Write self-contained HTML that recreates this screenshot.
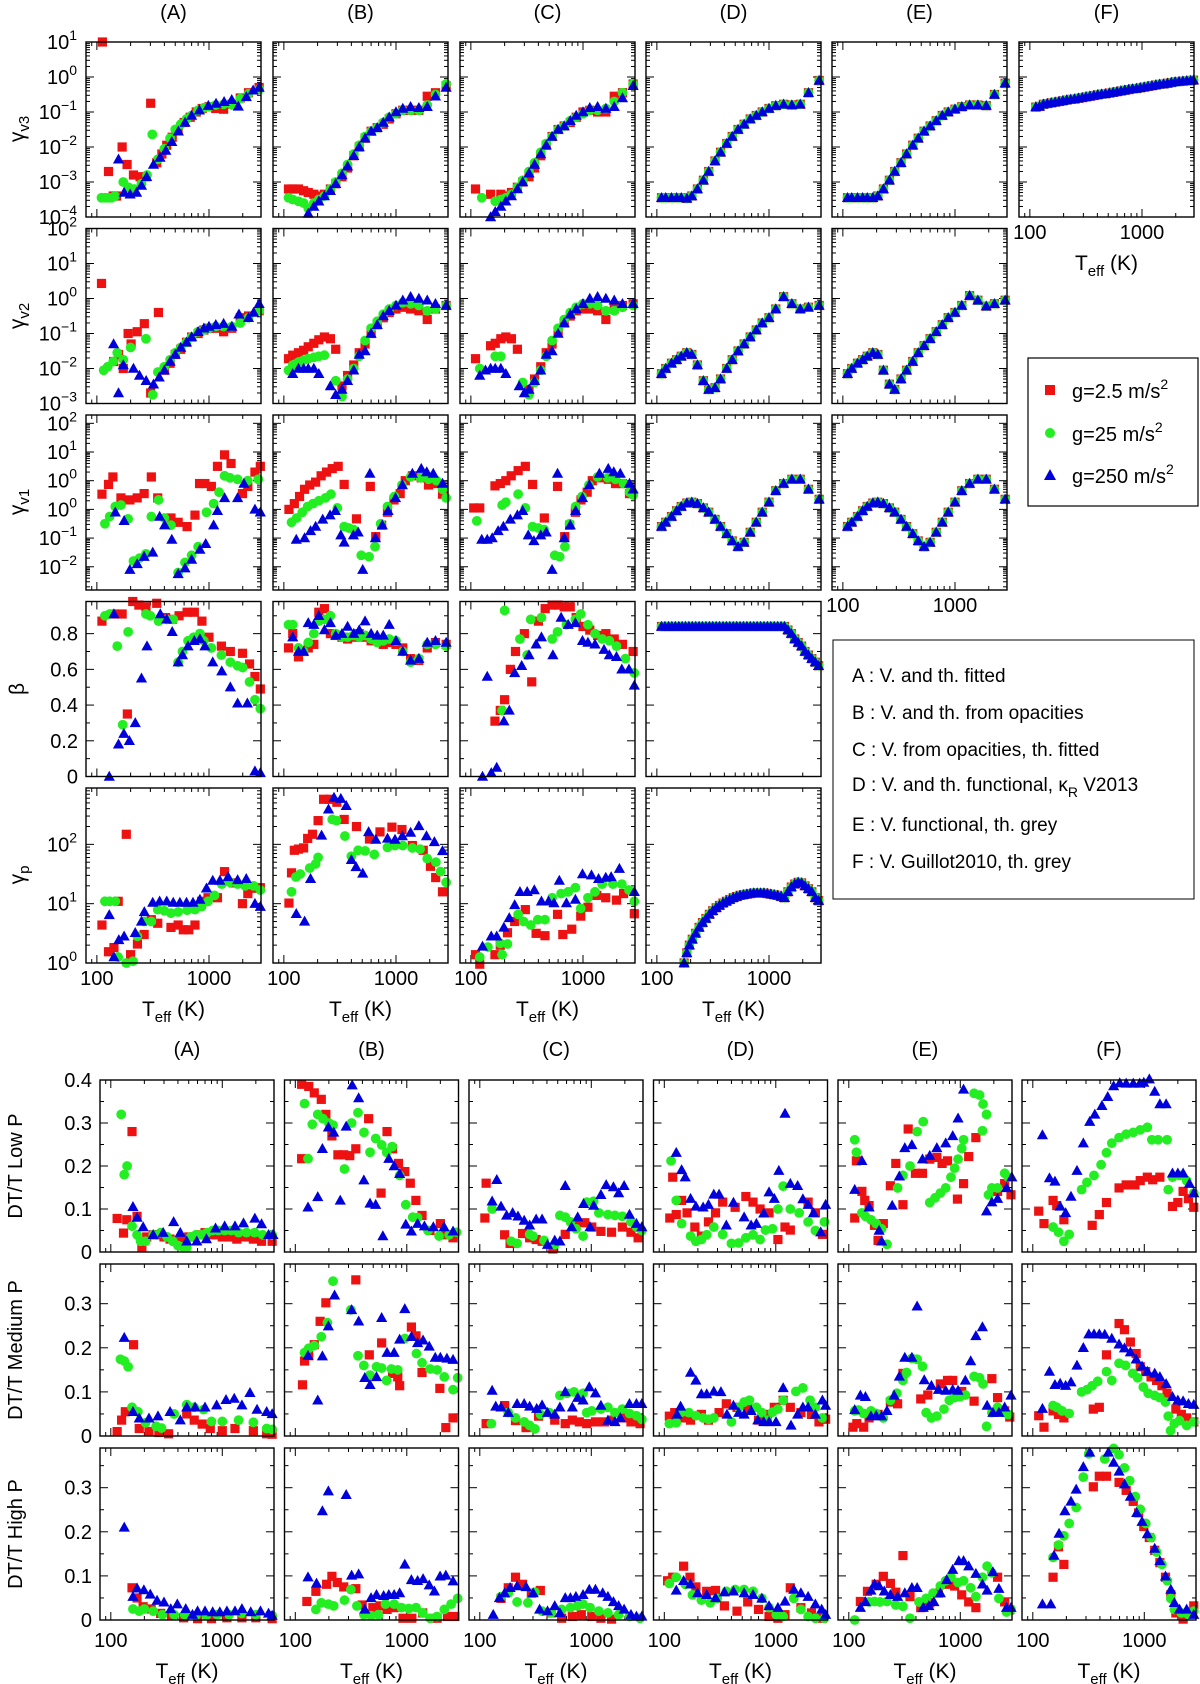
<!DOCTYPE html>
<html><head><meta charset="utf-8"><title>Gamma parameters and DT/T</title>
<style>
html,body{margin:0;padding:0;background:#fff;}
#fig{display:block;}
text{font-family:"Liberation Sans",Arial,sans-serif;fill:#000;}
</style></head>
<body>
<svg id="fig" xmlns="http://www.w3.org/2000/svg" width="1200" height="1684" viewBox="0 0 1200 1684">
<rect x="0" y="0" width="1200" height="1684" fill="#fff"/>
<g id="panels"></g>
<g>
<rect x="1028" y="358" width="170" height="148" fill="#fff" stroke="#000" stroke-width="1.2"/>
<rect x="1045" y="385" width="10" height="10" fill="#ee1111"/>
<text x="1072" y="398" font-size="20">g=2.5 m/s<tspan dy="-9" font-size="14">2</tspan></text>
<circle cx="1050" cy="433" r="5" fill="#22ee22"/>
<text x="1072" y="441" font-size="20">g=25 m/s<tspan dy="-9" font-size="14">2</tspan></text>
<polygon points="1050,469 1044,480 1056,480" fill="#0000dd"/>
<text x="1072" y="483" font-size="20">g=250 m/s<tspan dy="-9" font-size="14">2</tspan></text>
</g>
<g font-size="19">
<rect x="833" y="640" width="361" height="259" fill="#fff" stroke="#000" stroke-width="1"/>
<text x="852" y="682">A : V. and th. fitted</text>
<text x="852" y="719">B : V. and th. from opacities</text>
<text x="852" y="756">C : V. from opacities, th. fitted</text>
<text x="852" y="791">D : V. and th. functional, κ<tspan dy="6" font-size="14">R</tspan><tspan dy="-6"> V2013</tspan></text>
<text x="852" y="831">E : V. functional, th. grey</text>
<text x="852" y="868">F : V. Guillot2010, th. grey</text>
</g>
<g font-size="21">
<text transform="translate(24,129) rotate(-90)" text-anchor="middle">γ<tspan dy="5" font-size="15">v3</tspan></text>
<text transform="translate(24,316) rotate(-90)" text-anchor="middle">γ<tspan dy="5" font-size="15">v2</tspan></text>
<text transform="translate(24,502) rotate(-90)" text-anchor="middle">γ<tspan dy="5" font-size="15">v1</tspan></text>
<text transform="translate(24,689) rotate(-90)" text-anchor="middle">β</text>
<text transform="translate(24,875) rotate(-90)" text-anchor="middle">γ<tspan dy="5" font-size="15">p</tspan></text>
</g>
<g font-size="20">
<text transform="translate(22,1166) rotate(-90)" text-anchor="middle">DT/T Low P</text>
<text transform="translate(22,1350) rotate(-90)" text-anchor="middle">DT/T Medium P</text>
<text transform="translate(22,1534) rotate(-90)" text-anchor="middle">DT/T High P</text>
</g>
</svg>
<script>
// ---------- TOP SECTION DATA (log10 values for log rows) ----------
const A_v3_r=[[112,1.0],[127,-2.7],[140,-3.4],[150,-3.4],[168,-2.0],[186,-2.5],[212,-2.8],[243,-2.85],[275,-2.85],[302,-0.75],[342,-2.45],[380,-2.2],[420,-1.95],[470,-1.72],[530,-1.5],[600,-1.3],[680,-1.15],[770,-1.0],[870,-0.9],[1000,-0.85],[1150,-0.9],[1350,-0.92],[1600,-0.78],[1900,-0.6],[2250,-0.45],[2800,-0.3]];
const A_v3_g=[[110,-3.45],[118,-3.45],[127,-3.45],[135,-3.45],[145,-3.4],[172,-3.0],[191,-3.15],[215,-3.2],[250,-3.05],[280,-2.8],[312,-1.64],[350,-2.35],[400,-2.05],[450,-1.75],[500,-1.5],[560,-1.35],[630,-1.2],[700,-1.1],[800,-0.95],[900,-0.88],[1000,-0.85],[1150,-0.8],[1350,-0.78],[1600,-0.8],[1900,-0.62],[2250,-0.48],[2800,-0.35]];
const A_v3_b=[[156,-2.35],[175,-3.3],[198,-3.35],[226,-3.3],[250,-3.1],[278,-2.85],[320,-2.5],[366,-2.3],[412,-2.1],[466,-1.85],[533,-1.55],[612,-1.3],[700,-1.1],[822,-0.95],[986,-0.82],[1156,-0.76],[1364,-0.71],[1595,-0.65],[1826,-0.84],[2153,-0.57],[2475,-0.38],[2800,-0.3]];
const B_v3_r=[[110,-3.2],[120,-3.2],[135,-3.2],[150,-3.25],[165,-3.3],[185,-3.35],[205,-3.4],[230,-3.35],[260,-3.2],[290,-3.05],[330,-2.85],[370,-2.6],[420,-2.25],[470,-2.0],[530,-1.75],[600,-1.55],[680,-1.45],[770,-1.35],[870,-1.2],[1000,-1.05],[1150,-0.95],[1350,-0.95],[1600,-0.95],[1900,-0.55],[2250,-0.45],[2800,-0.25]];
const B_v3_g=[[110,-3.45],[120,-3.5],[135,-3.55],[150,-3.6],[165,-3.75],[185,-3.6],[205,-3.5],[230,-3.4],[260,-3.2],[290,-3.0],[330,-2.75],[370,-2.5],[420,-2.2],[470,-1.95],[530,-1.7],[600,-1.55],[680,-1.45],[770,-1.3],[870,-1.15],[1000,-1.05],[1150,-0.95],[1350,-0.95],[1600,-0.95],[1900,-0.8],[2250,-0.5],[2800,-0.2]];
const B_v3_b=[[165,-3.9],[185,-3.7],[205,-3.55],[230,-3.4],[260,-3.25],[290,-3.05],[330,-2.8],[370,-2.55],[420,-2.25],[470,-2.0],[530,-1.75],[600,-1.55],[680,-1.45],[770,-1.3],[870,-1.15],[1000,-1.0],[1150,-0.9],[1350,-0.85],[1600,-0.88],[1900,-0.85],[2250,-0.55],[2800,-0.3]];
const C_v3_r=[[110,-3.2],[150,-3.35],[185,-3.35],[205,-3.4],[230,-3.3],[260,-3.15],[290,-3.0],[330,-2.85],[370,-2.6],[420,-2.25],[470,-1.95],[530,-1.7],[600,-1.5],[680,-1.4],[770,-1.3],[870,-1.15],[1000,-1.0],[1150,-0.95],[1350,-1.0],[1600,-1.0],[1900,-0.55],[2250,-0.45],[2800,-0.2]];
const C_v3_g=[[125,-3.45],[165,-3.55],[185,-3.5],[205,-3.45],[230,-3.35],[260,-3.15],[290,-2.95],[330,-2.7],[370,-2.45],[420,-2.15],[470,-1.9],[530,-1.7],[600,-1.5],[680,-1.4],[770,-1.25],[870,-1.15],[1000,-1.05],[1150,-0.95],[1350,-0.95],[1600,-0.9],[1900,-0.7],[2250,-0.45],[2800,-0.2]];
const C_v3_b=[[150,-4.0],[165,-3.85],[185,-3.7],[205,-3.55],[230,-3.4],[260,-3.2],[290,-3.0],[330,-2.75],[370,-2.5],[420,-2.2],[470,-1.95],[530,-1.7],[600,-1.5],[680,-1.4],[770,-1.25],[870,-1.1],[1000,-1.0],[1150,-0.88],[1350,-0.85],[1600,-0.9],[1900,-0.85],[2250,-0.6],[2800,-0.25]];
const D_v3=[[110,-3.45],[120,-3.45],[135,-3.45],[150,-3.45],[165,-3.45],[185,-3.47],[205,-3.4],[230,-3.2],[260,-2.95],[290,-2.7],[330,-2.4],[370,-2.15],[420,-1.9],[470,-1.7],[530,-1.5],[600,-1.35],[680,-1.2],[770,-1.1],[870,-1.0],[1000,-0.9],[1150,-0.82],[1350,-0.78],[1600,-0.8],[1900,-0.78],[2250,-0.45],[2800,-0.1]];
const E_v3=[[110,-3.45],[120,-3.45],[135,-3.45],[150,-3.45],[165,-3.45],[185,-3.45],[205,-3.4],[230,-3.2],[260,-2.95],[290,-2.7],[330,-2.45],[370,-2.2],[420,-1.95],[470,-1.75],[530,-1.55],[600,-1.4],[680,-1.25],[770,-1.1],[870,-1.0],[1000,-0.92],[1150,-0.85],[1350,-0.8],[1600,-0.8],[1900,-0.82],[2250,-0.5],[2800,-0.18]];
const F_v3=[[113,-0.86],[122,-0.84],[132,-0.78],[143,-0.76],[155,-0.74],[168,-0.72],[182,-0.7],[197,-0.68],[213,-0.66],[231,-0.64],[250,-0.63],[271,-0.61],[293,-0.59],[317,-0.57],[343,-0.55],[372,-0.53],[403,-0.51],[436,-0.49],[472,-0.48],[511,-0.46],[553,-0.44],[599,-0.42],[649,-0.4],[702,-0.38],[760,-0.36],[823,-0.34],[892,-0.33],[965,-0.31],[1045,-0.29],[1132,-0.27],[1226,-0.25],[1327,-0.23],[1437,-0.21],[1556,-0.2],[1685,-0.18],[1825,-0.16],[1976,-0.14],[2140,-0.13],[2317,-0.12],[2509,-0.11],[2717,-0.1],[2880,-0.09]];

const A_v2_r=[[110,0.43],[141,-1.8],[156,-1.6],[172,-2.0],[190,-1.0],[202,-1.3],[229,-0.95],[265,-0.72],[302,-2.7],[354,-0.4],[400,-2.05],[450,-1.85],[500,-1.6],[560,-1.45],[630,-1.25],[700,-1.1],[800,-1.0],[900,-0.9],[1000,-0.85],[1150,-0.85],[1350,-0.95],[1600,-0.85],[1900,-0.55],[2250,-0.5],[2800,-0.35]];
const A_v2_g=[[115,-2.05],[125,-1.95],[140,-1.8],[152,-1.55],[172,-1.75],[200,-1.4],[274,-1.15],[315,-2.75],[350,-2.1],[400,-1.95],[450,-1.75],[500,-1.55],[560,-1.4],[630,-1.25],[700,-1.1],[800,-0.95],[900,-0.9],[1000,-0.85],[1150,-0.8],[1350,-0.8],[1600,-0.8],[1900,-0.7],[2250,-0.55],[2800,-0.35]];
const A_v2_b=[[141,-1.3],[156,-2.7],[172,-1.9],[212,-2.0],[240,-2.2],[275,-2.35],[320,-2.45],[360,-2.25],[400,-2.05],[450,-1.8],[500,-1.6],[560,-1.4],[630,-1.25],[700,-1.1],[800,-0.95],[900,-0.85],[1000,-0.8],[1150,-0.75],[1350,-0.72],[1600,-0.8],[1850,-0.45],[2250,-0.55],[2500,-0.4],[2800,-0.15]];
const B_v2_r=[[110,-1.72],[120,-1.62],[135,-1.55],[150,-1.48],[165,-1.38],[185,-1.28],[205,-1.18],[230,-1.1],[260,-1.15],[290,-1.45],[330,-2.5],[370,-2.2],[420,-1.9],[470,-1.55],[530,-1.3],[600,-1.0],[680,-0.75],[770,-0.55],[870,-0.4],[1000,-0.3],[1150,-0.25],[1350,-0.3],[1600,-0.35],[1900,-0.6],[2250,-0.3],[2800,-0.2]];
const B_v2_g=[[110,-2.05],[120,-1.9],[135,-1.82],[150,-1.76],[165,-1.72],[185,-1.68],[205,-1.65],[230,-1.62],[290,-2.35],[330,-2.8],[370,-2.3],[420,-2.0],[470,-1.65],[530,-1.2],[600,-0.85],[680,-0.65],[770,-0.45],[870,-0.3],[1000,-0.2],[1150,-0.12],[1350,-0.15],[1600,-0.2],[1900,-0.35],[2250,-0.3],[2800,-0.2]];
const B_v2_b=[[120,-2.15],[135,-2.0],[150,-2.0],[165,-2.0],[185,-2.0],[205,-2.15],[260,-2.5],[290,-2.75],[330,-2.6],[370,-2.35],[420,-2.05],[470,-1.6],[530,-1.5],[600,-1.0],[680,-0.75],[770,-0.5],[870,-0.35],[1000,-0.2],[1150,-0.05],[1350,0.05],[1600,0.0],[1900,-0.05],[2250,-0.15],[2800,-0.2]];
const C_v2_r=[[110,-1.72],[150,-1.35],[165,-1.28],[185,-1.15],[205,-1.1],[230,-1.15],[260,-1.45],[330,-2.6],[370,-2.3],[420,-1.95],[470,-1.55],[530,-1.3],[600,-0.95],[680,-0.7],[770,-0.5],[870,-0.35],[1000,-0.3],[1150,-0.3],[1350,-0.35],[1600,-0.6],[1900,-0.3],[2250,-0.2],[2800,-0.15]];
const C_v2_g=[[120,-2.0],[165,-1.65],[185,-1.65],[290,-2.4],[330,-2.75],[370,-2.4],[420,-2.05],[470,-1.65],[530,-1.2],[600,-0.85],[680,-0.6],[770,-0.4],[870,-0.25],[1000,-0.15],[1150,-0.15],[1350,-0.2],[1600,-0.35],[1900,-0.35],[2250,-0.25],[2800,-0.2]];
const C_v2_b=[[120,-2.2],[135,-2.05],[150,-2.0],[165,-2.0],[185,-2.0],[205,-2.15],[270,-2.5],[300,-2.7],[330,-2.6],[370,-2.35],[420,-2.05],[470,-1.6],[530,-1.5],[600,-1.0],[680,-0.7],[770,-0.45],[870,-0.3],[1000,-0.15],[1150,0.0],[1350,0.05],[1600,0.0],[1900,-0.05],[2250,-0.15],[2800,-0.15]];
const D_v2=[[110,-2.15],[120,-2.0],[135,-1.85],[150,-1.75],[165,-1.65],[185,-1.55],[205,-1.6],[230,-1.9],[260,-2.35],[290,-2.6],[330,-2.55],[370,-2.3],[420,-2.0],[470,-1.75],[530,-1.5],[600,-1.3],[680,-1.1],[770,-0.9],[870,-0.7],[1000,-0.55],[1150,-0.3],[1350,0.05],[1600,-0.15],[1900,-0.3],[2250,-0.25],[2800,-0.2]];
const E_v2=[[110,-2.15],[120,-2.0],[135,-1.85],[150,-1.75],[165,-1.65],[185,-1.55],[205,-1.6],[230,-2.05],[260,-2.45],[290,-2.6],[330,-2.3],[370,-2.05],[420,-1.8],[470,-1.55],[530,-1.35],[600,-1.15],[680,-0.95],[770,-0.75],[870,-0.55],[1000,-0.4],[1150,-0.2],[1350,0.08],[1600,-0.05],[1900,-0.22],[2250,-0.15],[2800,-0.05]];

const A_v1_r=[[111,-0.47],[127,-0.13],[139,0.13],[164,-0.6],[197,-0.67],[229,-0.6],[264,-0.45],[306,0.13],[349,-0.6],[458,-1.3],[531,-1.45],[638,-1.6],[750,-1.2],[824,-0.1],[920,-0.1],[1050,-0.2],[1190,0.5],[1377,0.9],[1573,0.6],[1988,-0.45],[2220,-0.2],[2570,0.3],[2870,0.5]];
const A_v1_g=[[118,-1.5],[130,-1.25],[146,-0.9],[164,-0.85],[190,-1.33],[212,-2.8],[240,-2.7],[274,-2.55],[306,-1.25],[355,-0.67],[400,-1.3],[458,-1.55],[531,-3.2],[611,-2.85],[700,-2.6],[800,-2.3],[950,-1.1],[1100,-0.8],[1230,-0.4],[1377,0.17],[1540,0.1],[1800,0.05],[2220,0.0],[2750,0.05]];
const A_v1_b=[[146,-1.1],[175,-1.4],[197,-3.1],[229,-2.9],[264,-2.65],[315,-2.5],[363,-1.25],[402,-1.55],[466,-2.05],[531,-3.25],[611,-3.05],[700,-2.75],[830,-2.4],[935,-2.2],[1100,-1.55],[1190,-1.05],[1377,-0.6],[1800,-0.6],[2050,-0.1],[2570,-1.0],[2870,-1.1]];
const B_v1_r=[[111,-1.0],[124,-0.8],[138,-0.55],[153,-0.3],[170,-0.15],[192,-0.05],[215,0.17],[240,0.3],[270,0.42],[305,0.5],[345,-0.13],[444,-1.33],[590,-0.2],[660,-1.95],[745,-1.55],[840,-1.1],[960,-0.67],[1090,-0.45],[1210,0.0],[1400,0.17],[1680,0.1],[1950,-0.15],[2250,-0.1],[2600,-0.47]];
const B_v1_g=[[117,-1.45],[130,-1.3],[146,-1.1],[163,-0.9],[182,-0.8],[205,-0.7],[235,-0.6],[263,-0.47],[300,-0.95],[345,-1.6],[380,-1.65],[417,-1.7],[490,-2.6],[575,-2.65],[650,-2.3],[730,-1.5],[840,-0.9],[970,-0.55],[1130,-0.15],[1350,0.13],[1660,0.1],[1950,0.05],[2300,0.0],[2600,-0.3],[2800,-0.6]];
const B_v1_b=[[129,-2.05],[153,-2.0],[173,-1.75],[192,-1.6],[222,-1.35],[258,-1.2],[288,-1.05],[322,-1.9],[345,-2.15],[417,-1.9],[460,-1.8],[505,-3.1],[585,0.25],[655,-2.0],[755,-1.55],[850,-1.05],[990,-0.6],[1140,-0.15],[1400,0.25],[1680,0.42],[1880,0.3],[2150,0.25],[2600,-0.1]];
const C_v1_r=[[106,-0.95],[120,-0.95],[164,-0.18],[183,-0.1],[205,0.0],[229,0.17],[264,0.35],[306,0.5],[355,-0.13],[452,-1.3],[593,-0.2],[687,-1.95],[760,-1.55],[855,-1.1],[960,-0.67],[1090,-0.4],[1210,0.0],[1400,0.1],[1680,0.05],[1950,-0.1],[2250,-0.1],[2600,-0.45]];
const C_v1_g=[[113,-1.4],[190,-0.85],[205,-0.75],[264,-0.47],[306,-0.95],[355,-1.6],[400,-1.65],[450,-1.7],[560,-2.6],[620,-2.65],[690,-2.3],[760,-1.5],[860,-0.9],[980,-0.55],[1130,-0.15],[1350,0.13],[1660,0.1],[1950,0.05],[2300,-0.1],[2600,-0.4],[2800,-0.5]];
const C_v1_b=[[125,-2.05],[140,-2.05],[155,-2.0],[175,-1.75],[195,-1.6],[225,-1.35],[260,-1.2],[290,-1.05],[325,-1.9],[365,-2.1],[420,-1.9],[470,-1.8],[530,-3.1],[593,0.25],[680,-2.0],[770,-1.55],[860,-1.05],[990,-0.6],[1140,-0.15],[1400,0.25],[1680,0.42],[1880,0.3],[2150,0.25],[2600,-0.1],[2800,-0.3]];
const D_v1=[[110,-1.6],[120,-1.45],[135,-1.25],[150,-1.05],[165,-0.9],[185,-0.78],[205,-0.75],[230,-0.8],[260,-0.95],[290,-1.1],[330,-1.35],[370,-1.6],[420,-1.85],[470,-2.1],[530,-2.3],[600,-2.15],[680,-1.8],[770,-1.45],[870,-1.1],[1000,-0.75],[1150,-0.35],[1350,-0.1],[1600,0.05],[1900,0.05],[2250,-0.3],[2800,-0.65]];
const E_v1=[[110,-1.6],[120,-1.45],[135,-1.25],[150,-1.05],[165,-0.9],[185,-0.78],[205,-0.75],[230,-0.8],[260,-0.95],[290,-1.1],[330,-1.35],[370,-1.6],[420,-1.85],[470,-2.1],[530,-2.3],[600,-2.15],[680,-1.8],[770,-1.45],[870,-1.1],[1000,-0.75],[1150,-0.35],[1350,-0.1],[1600,0.05],[1900,0.05],[2250,-0.3],[2800,-0.65]];

const A_b_r=[[111,0.87],[142,0.91],[168,0.91],[187,0.35],[209,0.98],[237,0.96],[274,0.95],[342,0.97],[410,0.89],[470,0.88],[541,0.9],[638,0.92],[740,0.92],[865,0.87],[1000,0.78],[1290,0.73],[1550,0.7],[1990,0.69],[2300,0.63],[2570,0.56],[2870,0.49]];
const A_b_g=[[118,0.9],[130,0.91],[152,0.73],[170,0.29],[190,0.81],[274,0.91],[300,0.9],[355,0.87],[420,0.88],[480,0.88],[531,0.64],[580,0.7],[650,0.76],[730,0.78],[830,0.8],[900,0.76],[1050,0.72],[1290,0.68],[1550,0.64],[1800,0.62],[2000,0.61],[2300,0.53],[2570,0.43],[2870,0.38]];
const A_b_b=[[129,0.0],[142,0.91],[156,0.18],[174,0.24],[195,0.2],[220,0.3],[250,0.55],[280,0.73],[368,0.91],[420,0.88],[470,0.81],[531,0.64],[580,0.68],[650,0.73],[740,0.76],[830,0.77],[920,0.73],[1080,0.64],[1300,0.59],[1550,0.5],[1800,0.41],[2200,0.41],[2570,0.03],[2870,0.02]];
const B_b_r=[[110,0.72],[120,0.8],[135,0.67],[150,0.7],[165,0.72],[185,0.74],[205,0.92],[230,0.94],[260,0.8],[290,0.79],[330,0.78],[370,0.77],[420,0.78],[470,0.8],[530,0.78],[600,0.76],[680,0.76],[770,0.74],[870,0.75],[1000,0.74],[1150,0.72],[1350,0.66],[1600,0.65],[1900,0.72],[2250,0.75],[2800,0.74]];
const B_b_g=[[110,0.85],[120,0.85],[135,0.72],[150,0.7],[165,0.75],[185,0.8],[205,0.87],[230,0.88],[260,0.9],[290,0.8],[330,0.78],[370,0.78],[420,0.79],[470,0.78],[530,0.79],[600,0.77],[680,0.75],[770,0.76],[870,0.77],[1000,0.76],[1150,0.7],[1350,0.64],[1600,0.66],[1900,0.74],[2250,0.74],[2800,0.73]];
const B_b_b=[[120,0.78],[135,0.7],[150,0.7],[165,0.86],[185,0.85],[205,0.9],[230,0.82],[260,0.86],[290,0.79],[330,0.8],[370,0.84],[420,0.8],[470,0.82],[530,0.87],[600,0.8],[680,0.79],[770,0.79],[870,0.85],[1000,0.76],[1150,0.7],[1350,0.65],[1600,0.66],[1900,0.75],[2250,0.76],[2800,0.75]];
const C_b_r=[[164,0.31],[183,0.37],[200,0.43],[225,0.6],[250,0.7],[349,0.53],[300,0.8],[400,0.87],[460,0.94],[530,0.96],[600,0.96],[680,0.95],[770,0.95],[870,0.89],[1000,0.84],[1150,0.82],[1350,0.79],[1600,0.8],[1900,0.77],[2250,0.74],[2800,0.7]];
const C_b_g=[[190,0.37],[200,0.93],[274,0.77],[318,0.68],[342,0.88],[426,0.89],[531,0.77],[593,0.81],[712,0.85],[855,0.88],[955,0.91],[1107,0.85],[1280,0.8],[1483,0.77],[1718,0.76],[1990,0.73],[2390,0.66],[2870,0.58]];
const C_b_b=[[127,0.0],[152,0.02],[170,0.05],[140,0.56],[197,0.31],[220,0.37],[246,0.58],[284,0.62],[330,0.68],[382,0.74],[426,0.78],[539,0.68],[638,0.89],[738,0.85],[855,0.86],[990,0.76],[1107,0.75],[1280,0.74],[1540,0.71],[1718,0.68],[1990,0.67],[2220,0.6],[2570,0.6],[2870,0.51]];
const D_T=[110,118,127,136,146,157,168,180,193,207,222,238,255,274,294,315,338,362,389,417,447,480,515,552,592,635,681,731,784,841,902,968,1038,1114,1195,1282,1375,1475,1582,1697,1820,1953,2095,2247,2410,2586,2774];
const D_beta=[0.84,0.84,0.84,0.84,0.84,0.84,0.84,0.84,0.84,0.84,0.84,0.84,0.84,0.84,0.84,0.84,0.84,0.84,0.84,0.84,0.84,0.84,0.84,0.84,0.84,0.84,0.84,0.84,0.84,0.84,0.84,0.84,0.84,0.84,0.84,0.84,0.84,0.82,0.8,0.77,0.75,0.73,0.7,0.68,0.66,0.64,0.62];

const A_gp_r=[[111,0.64],[127,0.19],[142,0.26],[155,1.04],[183,2.17],[200,0.14],[230,0.32],[264,0.48],[306,0.73],[349,0.67],[458,0.6],[531,0.64],[590,0.56],[660,0.56],[750,0.64],[860,1.04],[980,1.1],[1190,1.1],[1377,1.54],[1650,1.35],[1988,1.0],[2220,1.17],[2570,1.26],[2870,1.27]];
const A_gp_g=[[118,1.04],[130,1.04],[146,1.04],[155,0.1],[183,0.0],[210,0.03],[230,0.45],[264,0.7],[306,0.7],[349,0.9],[400,0.88],[458,0.84],[531,0.86],[638,0.89],[750,0.9],[860,0.95],[980,1.04],[1120,1.14],[1300,1.33],[1540,1.36],[1800,1.33],[2100,1.3],[2500,1.3],[2870,1.23]];
const A_gp_b=[[129,0.81],[142,0.1],[157,0.39],[175,0.45],[220,0.51],[250,0.7],[265,0.86],[315,1.02],[363,1.04],[420,1.04],[480,1.02],[550,1.02],[630,1.02],[720,1.02],[830,1.07],[950,1.26],[1080,1.39],[1250,1.39],[1480,1.45],[1800,1.4],[2150,1.42],[2570,1.0],[2870,0.95]];
const B_gp_r=[[111,1.01],[117,1.52],[124,1.9],[135,1.92],[150,1.94],[163,2.1],[180,2.17],[202,2.4],[226,2.76],[255,2.76],[297,2.71],[345,2.42],[444,2.3],[580,2.09],[720,2.21],[920,2.29],[1130,2.25],[1400,1.98],[1750,1.9],[2030,1.63],[2260,1.44],[2600,1.2]];
const B_gp_g=[[117,1.2],[128,1.45],[140,1.5],[170,1.6],[192,1.67],[202,1.78],[270,2.42],[295,2.4],[350,2.14],[400,1.8],[460,1.9],[530,1.89],[640,1.83],[840,1.95],[980,1.98],[1150,1.98],[1400,1.94],[1640,1.92],[1900,1.76],[2270,1.7],[2500,1.54],[2800,1.36]];
const B_gp_b=[[129,0.83],[153,0.7],[173,1.42],[217,2.15],[250,2.59],[280,2.79],[322,2.77],[360,2.65],[400,1.74],[440,1.62],[505,1.51],[570,2.21],[660,2.08],[840,2.1],[980,2.08],[1140,2.14],[1350,2.2],[1600,2.31],[1870,2.14],[2200,2.04],[2600,1.89]];
const C_gp_r=[[110,0.14],[120,-0.02],[164,0.14],[183,0.3],[212,0.51],[246,0.7],[306,0.9],[382,0.5],[458,0.46],[593,0.82],[661,0.48],[794,0.57],[955,0.79],[1107,0.94],[1328,1.14],[1596,1.1],[1990,1.06],[2302,1.17],[2870,0.83]];
const C_gp_g=[[120,0.1],[142,0.27],[183,0.33],[190,0.14],[212,0.32],[264,0.82],[295,0.7],[342,0.64],[396,0.73],[458,0.73],[531,1.1],[638,1.17],[738,1.2],[855,1.27],[955,0.92],[1107,1.1],[1280,1.2],[1483,1.33],[1848,1.33],[2220,1.33],[2570,1.23],[2870,1.04]];
const C_gp_b=[[127,0.28],[152,0.45],[170,0.45],[197,0.6],[220,0.76],[246,0.98],[274,1.2],[318,1.2],[368,1.23],[426,1.04],[493,1.04],[551,1.01],[615,1.39],[712,1.01],[855,1.07],[990,1.5],[1190,1.48],[1377,1.42],[1596,1.44],[1783,1.45],[2113,1.59],[2870,1.2]];
const D_gp=[[175,0.0],[185,0.17],[195,0.3],[207,0.4],[222,0.5],[238,0.6],[255,0.68],[274,0.75],[294,0.82],[315,0.88],[338,0.93],[362,0.97],[389,1.01],[417,1.04],[447,1.07],[480,1.1],[515,1.12],[552,1.14],[592,1.15],[635,1.16],[681,1.17],[731,1.18],[784,1.18],[841,1.18],[902,1.18],[968,1.17],[1038,1.16],[1114,1.15],[1195,1.14],[1282,1.12],[1375,1.1],[1475,1.2],[1582,1.28],[1697,1.33],[1820,1.36],[1953,1.35],[2095,1.3],[2247,1.25],[2410,1.2],[2586,1.1],[2774,1.05]];

// ---------- BOTTOM SECTION DATA (DT/T) ----------
const AL_r=[[114,0.078],[130,0.044],[139,0.075],[155,0.28],[172,0.083],[190,0.012],[210,0.035],[240,0.04],[270,0.04],[300,0.035],[340,0.03],[390,0.025],[440,0.03],[500,0.035],[560,0.035],[630,0.04],[700,0.045],[800,0.04],[900,0.04],[1000,0.035],[1150,0.035],[1350,0.03],[1600,0.035],[1900,0.03],[2250,0.025],[2800,0.025]];
const AL_g=[[124,0.32],[132,0.18],[140,0.2],[155,0.06],[172,0.04],[185,0.025],[205,0.025],[240,0.04],[280,0.045],[320,0.035],[360,0.025],[400,0.015],[440,0.012],[480,0.01],[520,0.035],[580,0.04],[650,0.04],[730,0.045],[820,0.05],[920,0.05],[1050,0.05],[1200,0.05],[1400,0.045],[1650,0.045],[1950,0.045],[2300,0.04],[2800,0.04]];
const AL_b=[[158,0.105],[172,0.08],[195,0.058],[240,0.04],[295,0.045],[366,0.07],[420,0.045],[480,0.025],[590,0.025],[720,0.03],[870,0.055],[1050,0.06],[1300,0.06],[1550,0.067],[1960,0.078],[2250,0.065],[2600,0.04],[2850,0.04]];
const AM_r=[[114,0.01],[125,0.036],[135,0.055],[160,0.207],[180,0.017],[220,0.01],[270,0.008],[330,0.005],[480,0.05],[560,0.036],[660,0.027],[780,0.017],[1000,0.012],[1300,0.017],[1900,0.012],[2500,0.005],[2800,0.004]];
const AM_g=[[122,0.174],[132,0.17],[143,0.157],[155,0.065],[175,0.055],[205,0.03],[255,0.022],[285,0.018],[370,0.05],[480,0.071],[560,0.065],[680,0.06],[800,0.033],[1000,0.033],[1400,0.036],[1900,0.031],[2500,0.017],[2800,0.015]];
const AM_b=[[132,0.223],[158,0.055],[180,0.04],[220,0.04],[265,0.045],[340,0.055],[420,0.036],[480,0.065],[570,0.065],[700,0.065],[890,0.07],[1080,0.082],[1280,0.085],[1500,0.07],[1770,0.098],[2050,0.06],[2500,0.055],[2800,0.05]];
const AH_r=[[155,0.073],[172,0.05],[195,0.03],[230,0.025],[280,0.015],[350,0.01],[450,0.005],[600,0.003],[800,0.003],[1100,0.005],[1500,0.005],[2000,0.005],[2800,0.003]];
const AH_g=[[158,0.025],[180,0.02],[200,0.025],[240,0.02],[290,0.012],[370,0.012],[460,0.012],[580,0.01],[720,0.01],[900,0.012],[1150,0.012],[1500,0.015],[2000,0.012],[2800,0.01]];
const AH_b=[[132,0.21],[158,0.053],[172,0.072],[198,0.068],[226,0.058],[260,0.044],[300,0.04],[345,0.025],[395,0.036],[470,0.025],[540,0.012],[600,0.02],[700,0.02],[820,0.018],[950,0.018],[1100,0.02],[1300,0.02],[1500,0.025],[1800,0.018],[2200,0.02],[2600,0.015],[2800,0.01]];
const BL_r=[[114,0.39],[114,0.217],[132,0.385],[148,0.37],[171,0.355],[188,0.32],[213,0.27],[241,0.226],[272,0.226],[308,0.224],[349,0.24],[455,0.31],[588,0.137],[665,0.28],[745,0.24],[843,0.206],[960,0.187],[1075,0.16],[1207,0.12],[1370,0.085],[1615,0.05],[2000,0.066],[2240,0.04],[2600,0.033]];
const BL_g=[[121,0.345],[130,0.217],[142,0.297],[159,0.32],[177,0.31],[200,0.3],[218,0.295],[276,0.193],[320,0.3],[365,0.324],[413,0.278],[468,0.232],[526,0.264],[596,0.249],[660,0.232],[740,0.245],[863,0.178],[980,0.11],[1130,0.081],[1250,0.08],[1550,0.05],[1950,0.037],[2400,0.04],[2800,0.046]];
const BL_b=[[130,0.104],[159,0.128],[175,0.24],[198,0.29],[221,0.278],[253,0.12],[286,0.292],[324,0.388],[370,0.358],[412,0.167],[468,0.113],[526,0.11],[610,0.037],[690,0.217],[770,0.2],[863,0.182],[980,0.064],[1100,0.048],[1250,0.066],[1440,0.06],[1730,0.058],[2160,0.058],[2600,0.048]];
const BM_r=[[116,0.116],[121,0.17],[132,0.182],[148,0.207],[167,0.26],[188,0.302],[349,0.354],[461,0.184],[595,0.211],[745,0.142],[830,0.134],[863,0.114],[1100,0.247],[1210,0.227],[1370,0.144],[1980,0.108],[2240,0.019],[2600,0.041]];
const BM_g=[[121,0.189],[132,0.199],[148,0.205],[171,0.225],[194,0.257],[218,0.351],[315,0.286],[365,0.182],[412,0.16],[468,0.138],[535,0.157],[595,0.154],[659,0.126],[728,0.152],[830,0.15],[960,0.221],[1220,0.187],[1370,0.166],[1620,0.152],[1870,0.15],[2170,0.134],[2600,0.105],[2860,0.132]];
const BM_b=[[130,0.182],[159,0.081],[175,0.181],[198,0.249],[225,0.319],[320,0.286],[370,0.26],[420,0.132],[468,0.116],[535,0.134],[595,0.268],[665,0.189],[770,0.189],[863,0.219],[960,0.288],[1100,0.225],[1250,0.211],[1400,0.217],[1590,0.203],[1800,0.178],[2000,0.178],[2290,0.176],[2600,0.173]];
const BH_r=[[127,0.042],[153,0.065],[191,0.081],[213,0.099],[238,0.085],[272,0.075],[349,0.071],[398,0.034],[496,0.028],[576,0.032],[665,0.024],[770,0.028],[925,0.004],[1110,0.004],[1390,0.016],[1870,0.004],[2320,0.008],[2700,0.008]];
const BH_g=[[153,0.024],[171,0.039],[198,0.036],[221,0.032],[276,0.045],[315,0.069],[357,0.032],[413,0.012],[478,0.01],[555,0.012],[643,0.036],[770,0.036],[895,0.028],[1040,0.026],[1210,0.028],[1390,0.016],[1620,0.004],[1870,0.008],[2170,0.024],[2500,0.036],[2860,0.049]];
const BH_b=[[130,0.097],[155,0.083],[175,0.247],[198,0.292],[286,0.284],[320,0.101],[370,0.104],[420,0.024],[478,0.05],[535,0.057],[620,0.055],[690,0.057],[770,0.057],[863,0.061],[960,0.126],[1100,0.091],[1250,0.089],[1400,0.093],[1590,0.079],[1770,0.065],[1990,0.099],[2240,0.101],[2600,0.088]];
const CL_r=[[111,0.079],[114,0.16],[167,0.04],[187,0.02],[242,0.043],[280,0.033],[320,0.029],[362,0.025],[452,0.007],[584,0.041],[728,0.062],[875,0.068],[1010,0.058],[1220,0.048],[1520,0.046],[1900,0.058],[2270,0.046],[2630,0.033]];
const CL_g=[[129,0.1],[191,0.025],[216,0.02],[280,0.041],[300,0.037],[376,0.027],[470,0.017],[523,0.085],[584,0.081],[650,0.07],[730,0.054],[844,0.037],[910,0.116],[1050,0.118],[1170,0.091],[1410,0.087],[1630,0.085],[1900,0.083],[2270,0.07],[2540,0.058],[2840,0.05]];
const CL_b=[[129,0.118],[142,0.168],[155,0.106],[174,0.085],[197,0.091],[220,0.083],[250,0.073],[280,0.062],[320,0.076],[362,0.076],[405,0.017],[470,0.027],[523,0.025],[584,0.154],[665,0.058],[755,0.081],[853,0.112],[975,0.058],[1050,0.108],[1220,0.133],[1360,0.156],[1580,0.151],[1760,0.137],[1970,0.154],[2200,0.087],[2540,0.066],[2840,0.058]];
const CM_r=[[114,0.028],[167,0.069],[209,0.035],[260,0.019],[337,0.045],[470,0.036],[584,0.028],[676,0.036],[781,0.032],[910,0.028],[1090,0.032],[1310,0.032],[1520,0.036],[1900,0.041],[2270,0.032],[2740,0.028]];
const CM_g=[[127,0.028],[180,0.053],[209,0.041],[250,0.032],[280,0.024],[312,0.016],[350,0.049],[420,0.053],[523,0.092],[606,0.097],[700,0.1],[844,0.097],[910,0.053],[1010,0.057],[1220,0.061],[1410,0.065],[1630,0.053],[1900,0.061],[2200,0.051],[2540,0.046],[2840,0.038]];
const CM_b=[[129,0.103],[139,0.067],[155,0.065],[180,0.053],[216,0.073],[250,0.073],[280,0.067],[324,0.062],[362,0.07],[405,0.053],[470,0.049],[523,0.065],[584,0.1],[676,0.065],[755,0.087],[844,0.081],[960,0.111],[1090,0.097],[1220,0.069],[1410,0.035],[1630,0.032],[1820,0.041],[2200,0.073],[2540,0.073],[2840,0.073]];
const CH_r=[[155,0.049],[180,0.073],[209,0.097],[242,0.081],[290,0.061],[349,0.067],[436,0.016],[543,0.004],[676,0.008],[814,0.012],[1010,0.008],[1220,0.004],[1520,0.002]];
const CH_g=[[155,0.053],[180,0.061],[216,0.041],[270,0.039],[312,0.063],[362,0.02],[436,0.016],[543,0.024],[650,0.028],[755,0.032],[844,0.036],[975,0.028],[1170,0.02],[1410,0.016],[1760,0.012],[2200,0.008],[2740,0.004]];
const CH_b=[[132,0.012],[150,0.05],[167,0.061],[187,0.073],[216,0.077],[260,0.075],[301,0.061],[344,0.024],[405,0.02],[470,0.032],[523,0.016],[584,0.05],[650,0.05],[728,0.053],[844,0.057],[960,0.069],[1090,0.069],[1265,0.061],[1410,0.053],[1580,0.041],[1760,0.032],[1970,0.024],[2270,0.012],[2540,0.008],[2840,0.008]];
const DL_r=[[112,0.079],[119,0.174],[128,0.087],[143,0.12],[160,0.091],[188,0.058],[215,0.037],[249,0.07],[288,0.091],[334,0.116],[432,0.104],[539,0.129],[625,0.116],[723,0.1],[870,0.091],[1045,0.029],[1210,0.058],[1350,0.051],[1950,0.116],[2265,0.091],[2620,0.041]];
const DL_g=[[115,0.212],[128,0.12],[143,0.066],[172,0.037],[192,0.025],[215,0.029],[240,0.04],[278,0.058],[334,0.041],[400,0.02],[465,0.021],[539,0.033],[625,0.04],[723,0.029],[808,0.051],[935,0.054],[1045,0.1],[1165,0.153],[1350,0.1],[1620,0.091],[1950,0.07],[2265,0.05],[2730,0.07]];
const DL_b=[[128,0.231],[143,0.191],[154,0.174],[172,0.124],[192,0.106],[223,0.104],[249,0.11],[278,0.134],[310,0.134],[360,0.062],[417,0.115],[520,0.081],[601,0.062],[670,0.066],[780,0.09],[870,0.139],[970,0.124],[1065,0.189],[1210,0.322],[1350,0.159],[1570,0.154],[1750,0.123],[1950,0.11],[2180,0.091],[2530,0.046],[2800,0.11]];
const DM_r=[[111,0.045],[124,0.053],[143,0.041],[172,0.036],[215,0.049],[249,0.036],[310,0.053],[360,0.073],[449,0.065],[560,0.061],[700,0.036],[840,0.049],[970,0.065],[1165,0.081],[1350,0.065],[1680,0.053],[2090,0.049],[2440,0.032],[2800,0.038]];
const DM_g=[[111,0.028],[128,0.03],[143,0.054],[166,0.053],[192,0.046],[223,0.041],[249,0.038],[278,0.041],[400,0.032],[465,0.065],[520,0.077],[580,0.081],[670,0.065],[750,0.053],[840,0.036],[935,0.054],[1045,0.061],[1165,0.081],[1515,0.101],[1750,0.109],[2030,0.081],[2265,0.065],[2620,0.041]];
const DM_b=[[130,0.049],[140,0.067],[172,0.144],[192,0.126],[215,0.095],[240,0.095],[278,0.101],[322,0.1],[365,0.049],[417,0.069],[465,0.053],[520,0.049],[601,0.057],[690,0.036],[780,0.032],[870,0.032],[1005,0.032],[1165,0.109],[1370,0.024],[1570,0.049],[1750,0.065],[1950,0.065],[2265,0.049],[2620,0.081],[2800,0.069]];
const DH_r=[[107,0.089],[119,0.097],[149,0.122],[170,0.097],[192,0.075],[240,0.065],[288,0.067],[346,0.032],[449,0.02],[560,0.041],[700,0.024],[870,0.008],[1045,0.004],[1210,0.012],[1350,0.073],[1680,0.028],[2090,0.016],[2620,0.004]];
const DH_g=[[111,0.083],[128,0.097],[154,0.081],[179,0.057],[215,0.045],[258,0.039],[298,0.049],[360,0.065],[432,0.069],[520,0.069],[625,0.065],[750,0.049],[870,0.028],[1010,0.012],[1165,0.008],[1450,0.049],[1680,0.024],[1950,0.008],[2265,0.004],[2730,0.004]];
const DH_b=[[128,0.067],[149,0.089],[172,0.081],[199,0.061],[240,0.057],[288,0.05],[346,0.063],[417,0.065],[520,0.061],[625,0.057],[750,0.049],[870,0.032],[1045,0.028],[1210,0.042],[1450,0.069],[1680,0.061],[1950,0.053],[2265,0.036],[2580,0.024],[2800,0.012]];
const EL_r=[[113,0.079],[117,0.212],[131,0.141],[139,0.12],[152,0.108],[170,0.062],[183,0.027],[204,0.066],[236,0.154],[264,0.206],[306,0.11],[341,0.286],[396,0.183],[458,0.183],[532,0.216],[616,0.22],[687,0.206],[768,0.212],[943,0.123],[1070,0.159],[1190,0.222],[1380,0.266],[2160,0.141],[2500,0.159],[2850,0.133]];
const EL_g=[[113,0.261],[117,0.232],[131,0.091],[141,0.083],[158,0.075],[176,0.066],[197,0.054],[220,0.018],[274,0.149],[306,0.178],[354,0.2],[410,0.28],[465,0.303],[532,0.115],[594,0.126],[662,0.137],[740,0.149],[825,0.174],[890,0.195],[955,0.216],[1030,0.241],[1070,0.261],[1330,0.369],[1490,0.365],[1580,0.282],[1600,0.344],[1720,0.32],[1790,0.133],[1920,0.149],[2160,0.149],[2500,0.183],[2690,0.174]];
const EL_b=[[113,0.145],[131,0.212],[152,0.104],[187,0.05],[197,0.025],[245,0.108],[284,0.176],[318,0.242],[368,0.249],[458,0.216],[532,0.224],[616,0.242],[740,0.253],[855,0.27],[955,0.311],[1070,0.378],[1720,0.095],[1920,0.116],[2160,0.124],[2600,0.149],[2900,0.174]];
const EM_r=[[109,0.02],[118,0.028],[136,0.02],[152,0.041],[183,0.049],[236,0.077],[274,0.073],[306,0.142],[442,0.084],[511,0.093],[662,0.118],[768,0.126],[855,0.126],[1030,0.101],[1330,0.079],[1920,0.13],[2160,0.087],[2500,0.057],[2780,0.043]];
const EM_g=[[113,0.057],[122,0.059],[136,0.051],[158,0.057],[176,0.051],[204,0.041],[236,0.081],[270,0.097],[306,0.126],[330,0.144],[368,0.176],[410,0.174],[458,0.158],[494,0.053],[551,0.041],[616,0.045],[714,0.061],[797,0.081],[890,0.087],[993,0.089],[1110,0.093],[1330,0.135],[1490,0.132],[1600,0.118],[1720,0.022],[1920,0.053],[2160,0.065],[2400,0.054],[2690,0.049]];
const EM_b=[[113,0.059],[127,0.092],[141,0.089],[158,0.045],[176,0.046],[197,0.045],[220,0.057],[255,0.092],[284,0.135],[318,0.178],[368,0.178],[410,0.294],[475,0.127],[551,0.114],[637,0.105],[740,0.103],[855,0.105],[955,0.103],[1110,0.126],[1240,0.17],[1380,0.227],[1580,0.247],[1740,0.069],[1960,0.053],[2220,0.053],[2500,0.065],[2850,0.092]];
const EH_r=[[127,0.042],[147,0.065],[176,0.081],[204,0.099],[236,0.083],[264,0.063],[306,0.146],[354,0.053],[442,0.028],[532,0.039],[637,0.061],[768,0.081],[890,0.077],[1030,0.057],[1190,0.041],[1380,0.028],[2160,0.097],[2500,0.041],[2780,0.023]];
const EH_g=[[113,0.0],[152,0.041],[170,0.042],[190,0.041],[220,0.042],[264,0.034],[306,0.031],[354,0.004],[426,0.041],[494,0.049],[570,0.061],[662,0.077],[740,0.089],[825,0.097],[955,0.085],[1070,0.089],[1240,0.073],[1380,0.053],[1580,0.097],[1740,0.122],[1920,0.107],[2220,0.049],[2600,0.018],[2850,0.024]];
const EH_b=[[127,0.028],[141,0.041],[158,0.067],[170,0.081],[187,0.077],[208,0.065],[236,0.057],[274,0.053],[318,0.061],[368,0.073],[410,0.073],[465,0.028],[523,0.032],[580,0.041],[662,0.061],[755,0.091],[855,0.114],[970,0.134],[1070,0.134],[1190,0.122],[1380,0.105],[1580,0.081],[1740,0.067],[1960,0.109],[2220,0.071],[2600,0.028],[2850,0.028]];
const FL_r=[[113,0.095],[126,0.066],[152,0.12],[164,0.108],[190,0.075],[341,0.062],[395,0.087],[458,0.115],[594,0.149],[688,0.156],[825,0.156],[920,0.166],[1065,0.174],[1190,0.168],[1380,0.174],[1790,0.106],[2000,0.115],[2230,0.141],[2490,0.124],[2780,0.104]];
const FL_g=[[152,0.058],[170,0.046],[190,0.025],[212,0.041],[274,0.145],[306,0.162],[354,0.178],[410,0.203],[458,0.231],[511,0.253],[594,0.266],[688,0.274],[796,0.278],[920,0.284],[1065,0.29],[1170,0.261],[1330,0.261],[1600,0.261],[1640,0.145],[1790,0.174],[2070,0.178],[2400,0.166],[2780,0.137]];
const FL_b=[[122,0.272],[141,0.172],[158,0.164],[176,0.106],[197,0.091],[220,0.129],[249,0.189],[284,0.253],[324,0.303],[360,0.32],[417,0.34],[470,0.361],[531,0.386],[602,0.393],[688,0.392],[796,0.392],[910,0.392],[990,0.394],[1110,0.402],[1240,0.373],[1380,0.344],[1570,0.344],[1790,0.183],[2000,0.183],[2230,0.183],[2540,0.159],[2780,0.137]];
const FM_r=[[113,0.046],[126,0.02],[152,0.057],[170,0.049],[190,0.041],[349,0.061],[395,0.065],[458,0.184],[594,0.255],[664,0.241],[750,0.213],[845,0.187],[920,0.157],[1030,0.146],[1150,0.134],[1290,0.126],[1440,0.114],[1600,0.097],[1920,0.061],[2150,0.049],[2400,0.041],[2780,0.032]];
const FM_g=[[152,0.069],[164,0.065],[183,0.057],[212,0.051],[274,0.1],[306,0.105],[341,0.114],[382,0.124],[458,0.146],[511,0.126],[594,0.165],[680,0.16],[788,0.142],[872,0.132],[980,0.111],[1085,0.097],[1240,0.092],[1380,0.087],[1550,0.077],[1640,0.045],[1720,0.012],[1860,0.028],[2070,0.035],[2400,0.024],[2780,0.032]];
const FM_b=[[122,0.062],[141,0.146],[158,0.116],[176,0.119],[197,0.114],[220,0.122],[249,0.16],[284,0.2],[318,0.231],[354,0.231],[395,0.231],[442,0.23],[511,0.221],[594,0.208],[664,0.199],[750,0.19],[845,0.174],[955,0.158],[1065,0.146],[1240,0.142],[1380,0.134],[1570,0.118],[1790,0.089],[2000,0.081],[2230,0.079],[2490,0.073],[2780,0.071]];
const FH_r=[[152,0.097],[170,0.166],[190,0.126],[349,0.302],[395,0.326],[458,0.326],[594,0.312],[688,0.294],[796,0.269],[890,0.243],[990,0.212],[1110,0.187],[1240,0.158],[1380,0.13],[1550,0.097],[1730,0.057],[1920,0.016],[2230,0.002],[2780,0.032]];
const FH_g=[[152,0.142],[170,0.17],[190,0.191],[212,0.219],[245,0.255],[284,0.324],[318,0.377],[442,0.365],[531,0.389],[594,0.375],[664,0.345],[740,0.316],[830,0.28],[920,0.251],[1030,0.219],[1150,0.187],[1290,0.154],[1440,0.126],[1610,0.089],[1730,0.049],[1860,0.024],[2150,0.016],[2490,0.012],[2780,0.02]];
const FH_b=[[122,0.036],[145,0.036],[155,0.146],[172,0.196],[194,0.247],[220,0.269],[245,0.296],[284,0.347],[324,0.38],[476,0.38],[531,0.357],[594,0.337],[664,0.308],[750,0.28],[855,0.243],[955,0.223],[1065,0.195],[1240,0.162],[1380,0.134],[1550,0.099],[1730,0.069],[1860,0.039],[2070,0.024],[2400,0.024],[2780,0.012]];

// ---------- LAYOUT ----------
const NS='http://www.w3.org/2000/svg';
const root=document.getElementById('panels');
const LX0=Math.log10(80), LX1=Math.log10(2910);
const TOPX=[86,273,460,646,832,1019], TOPY=[42,228.5,415,601.5,788], TW=175, TH=175;
const BOTX=[100,284.5,469,653.5,838,1022], BOTY=[1080,1264,1448], BW=174, BH=172;
const COLS=['A','B','C','D','E','F'];
const RED='#ee1111', GREEN='#22ee22', BLUE='#0000dd';

function el(tag,attrs){const e=document.createElementNS(NS,tag);for(const k in attrs)e.setAttribute(k,attrs[k]);return e;}
function xScale(T,x0,w){return x0+(Math.log10(T)-LX0)/(LX1-LX0)*w;}
function yScale(v,y0,h,ax){return y0+(ax.max-v)/(ax.max-ax.min)*h;}

function drawMarker(g,kind,x,y){
  let m;
  if(kind===0){m=el('rect',{x:x-4.6,y:y-4.6,width:9.2,height:9.2,fill:RED});
    }
  else if(kind===1){m=el('circle',{cx:x,cy:y,r:4.9,fill:GREEN});
    }
  else {m=el('polygon',{points:(x)+','+(y-5.8)+' '+(x-5.6)+','+(y+4.2)+' '+(x+5.6)+','+(y+4.2),fill:BLUE});
    }
  
  g.appendChild(m);
}

function drawPanel(name,x0,y0,w,h,ax,series,opts){
  const g=el('g',{});
  
  
  root.appendChild(g);
  // x ticks
  const xt=[100,1000];
  const xm=[90,200,300,400,500,600,700,800,900,2000];
  xt.concat(xm).forEach(function(T){
    const x=xScale(T,x0,w); if(x<x0||x>x0+w)return;
    const L=(T===100||T===1000)?8:4;
    const t1=el('line',{x1:x,y1:y0+h,x2:x,y2:y0+h-L,stroke:'#000','stroke-width':1});
    
    
    g.appendChild(t1);
    const t2=el('line',{x1:x,y1:y0,x2:x,y2:y0+L,stroke:'#000','stroke-width':1});
    
    
    g.appendChild(t2);
  });
  // y ticks
  const yt=[];
  if(ax.log){
    for(let k=Math.floor(ax.min)-1;k<=Math.ceil(ax.max);k++){
      yt.push([k,8]);
      for(let m=2;m<=9;m++)yt.push([k+Math.log10(m),4]);
    }
  } else {
    for(let v=0;v<=ax.max+1e-9;v+=ax.minor){yt.push([v,(Math.abs(v/ax.major-Math.round(v/ax.major))<1e-6)?8:4]);}
  }
  yt.forEach(function(p){
    if(p[0]<ax.min-1e-9||p[0]>ax.max+1e-9)return;
    const y=yScale(p[0],y0,h,ax);
    const a=el('line',{x1:x0,y1:y,x2:x0+p[1],y2:y,stroke:'#000','stroke-width':1});
    
    
    g.appendChild(a);
    const b=el('line',{x1:x0+w,y1:y,x2:x0+w-p[1],y2:y,stroke:'#000','stroke-width':1});
    
    
    g.appendChild(b);
  });
  // y labels
  if(opts.ylabels){
    opts.ylabels.forEach(function(L){
      const y=yScale(L[0],y0,h,ax);
      const t=el('text',{x:x0-(ax.log?9:8),y:y+7,'text-anchor':'end','font-size':20});
      
      
      if(L[2]!==undefined){
        t.appendChild(document.createTextNode(L[1]));
        const s=el('tspan',{dy:-9,'font-size':14});
        s.textContent=L[2];
        t.appendChild(s);
      } else t.textContent=L[1];
      g.appendChild(t);
    });
  }
  // x labels
  if(opts.xlabels){
    [[100,'100'],[1000,'1000']].forEach(function(L){
      const t=el('text',{x:xScale(L[0],x0,w),y:y0+h+opts.xlabDy,'text-anchor':'middle','font-size':20});
      
      
      t.textContent=L[1];
      g.appendChild(t);
    });
  }
  if(opts.xtitle){
    const t=el('text',{x:x0+w/2,y:y0+h+opts.xtitleDy,'text-anchor':'middle','font-size':21});
    
    
    t.appendChild(document.createTextNode('T'));
    const s=el('tspan',{dy:6,'font-size':15});s.textContent='eff';t.appendChild(s);
    const s2=el('tspan',{dy:-6});s2.textContent=' (K)';t.appendChild(s2);
    g.appendChild(t);
  }
  // markers
  const mg=el('g',{});
  
  
  g.appendChild(mg);
  series.forEach(function(s,i){
    s.forEach(function(p){
      drawMarker(mg,i,xScale(p[0],x0,w),yScale(p[1],y0,h,ax));
    });
  });
  // frame
  const fr=el('rect',{x:x0,y:y0,width:w,height:h,fill:'none',stroke:'#000','stroke-width':1.4});
  
  
  g.appendChild(fr);
}

function pairs(Ts,vs){return Ts.map(function(T,i){return [T,vs[i]];});}
const D_b=pairs(D_T,D_beta);

const AXES=[
  {log:true,min:-4,max:1},
  {log:true,min:-3,max:2},
  {log:true,min:-3.81,max:2.29},
  {log:false,min:0,max:0.98,major:0.2,minor:0.1},
  {log:true,min:0,max:2.95}
];
const YLAB=[
  [[1,'10','1'],[0,'10','0'],[-1,'10','−1'],[-2,'10','−2'],[-3,'10','−3'],[-4,'10','−4']],
  [[2,'10','2'],[1,'10','1'],[0,'10','0'],[-1,'10','−1'],[-2,'10','−2'],[-3,'10','−3']],
  [[2,'10','2'],[1,'10','1'],[0,'10','0'],[-1,'10','0'],[-2,'10','−1'],[-3,'10','−2']],
  [[0.8,'0.8'],[0.6,'0.6'],[0.4,'0.4'],[0.2,'0.2'],[0,'0']],
  [[2,'10','2'],[1,'10','1'],[0,'10','0']]
];
const TOP=[
  [[A_v3_r,A_v3_g,A_v3_b],[B_v3_r,B_v3_g,B_v3_b],[C_v3_r,C_v3_g,C_v3_b],[D_v3,D_v3,D_v3],[E_v3,E_v3,E_v3],[F_v3,F_v3,F_v3]],
  [[A_v2_r,A_v2_g,A_v2_b],[B_v2_r,B_v2_g,B_v2_b],[C_v2_r,C_v2_g,C_v2_b],[D_v2,D_v2,D_v2],[E_v2,E_v2,E_v2]],
  [[A_v1_r,A_v1_g,A_v1_b],[B_v1_r,B_v1_g,B_v1_b],[C_v1_r,C_v1_g,C_v1_b],[D_v1,D_v1,D_v1],[E_v1,E_v1,E_v1]],
  [[A_b_r,A_b_g,A_b_b],[B_b_r,B_b_g,B_b_b],[C_b_r,C_b_g,C_b_b],[D_b,D_b,D_b]],
  [[A_gp_r,A_gp_g,A_gp_b],[B_gp_r,B_gp_g,B_gp_b],[C_gp_r,C_gp_g,C_gp_b],[D_gp,D_gp,D_gp]]
];
const ROWN=['gamma-v3','gamma-v2','gamma-v1','beta','gamma-p'];
TOP.forEach(function(row,r){
  row.forEach(function(ser,c){
    const opts={};
    if(c===0)opts.ylabels=YLAB[r];
    if((r===4&&c<4)||(r===2&&c===4)||(r===0&&c===5)){opts.xlabels=true;opts.xlabDy=22;}
    if((r===4&&c<4)||(r===0&&c===5)){opts.xtitle=true;opts.xtitleDy=53;}
    drawPanel('panel-'+ROWN[r]+'-'+COLS[c].toLowerCase(),TOPX[c],TOPY[r],TW,TH,AXES[r],ser,opts);
  });
});

const BAX=[{log:false,min:0,max:0.4,major:0.1,minor:0.05},{log:false,min:0,max:0.39,major:0.1,minor:0.05},{log:false,min:0,max:0.39,major:0.1,minor:0.05}];
const BLAB=[
  [[0.4,'0.4'],[0.3,'0.3'],[0.2,'0.2'],[0.1,'0.1'],[0,'0']],
  [[0.3,'0.3'],[0.2,'0.2'],[0.1,'0.1'],[0,'0']],
  [[0.3,'0.3'],[0.2,'0.2'],[0.1,'0.1'],[0,'0']]
];
const BOT=[
  [[AL_r,AL_g,AL_b],[BL_r,BL_g,BL_b],[CL_r,CL_g,CL_b],[DL_r,DL_g,DL_b],[EL_r,EL_g,EL_b],[FL_r,FL_g,FL_b]],
  [[AM_r,AM_g,AM_b],[BM_r,BM_g,BM_b],[CM_r,CM_g,CM_b],[DM_r,DM_g,DM_b],[EM_r,EM_g,EM_b],[FM_r,FM_g,FM_b]],
  [[AH_r,AH_g,AH_b],[BH_r,BH_g,BH_b],[CH_r,CH_g,CH_b],[DH_r,DH_g,DH_b],[EH_r,EH_g,EH_b],[FH_r,FH_g,FH_b]]
];
const BROWN=['dtt-low-p','dtt-medium-p','dtt-high-p'];
BOT.forEach(function(row,r){
  row.forEach(function(ser,c){
    const opts={};
    if(c===0)opts.ylabels=BLAB[r];
    if(r===2){opts.xlabels=true;opts.xlabDy=27;opts.xtitle=true;opts.xtitleDy=58;}
    drawPanel('panel-'+BROWN[r]+'-'+COLS[c].toLowerCase(),BOTX[c],BOTY[r],BW,BH,BAX[r],ser,opts);
  });
});

// column headers
COLS.forEach(function(L,c){
  const t=el('text',{x:TOPX[c]+TW/2,y:19,'text-anchor':'middle','font-size':20});
  
  
  t.textContent='('+L+')';
  root.appendChild(t);
  const t2=el('text',{x:BOTX[c]+BW/2,y:1056,'text-anchor':'middle','font-size':20});
  
  
  t2.textContent='('+L+')';
  root.appendChild(t2);
});
</script>
</body></html>
